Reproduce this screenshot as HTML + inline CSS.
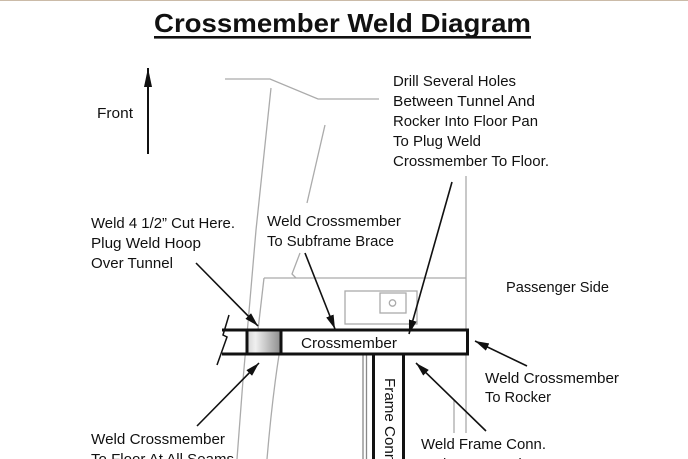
<!DOCTYPE html>
<html><head><meta charset="utf-8"><style>
html,body{margin:0;padding:0;background:#fff;width:688px;height:459px;overflow:hidden;}
svg{display:block;overflow:hidden;}
text{font-family:"Liberation Sans",Arial,sans-serif;fill:#111;}
</style></head><body>
<svg width="688" height="459" viewBox="0 0 688 459" xmlns="http://www.w3.org/2000/svg">
<defs>
<clipPath id="clip"><rect x="0" y="0" width="688" height="459"/></clipPath>
<marker id="ah" markerUnits="userSpaceOnUse" markerWidth="14" markerHeight="8" refX="14" refY="4" orient="auto">
<path d="M0,0 L14,4 L0,8 z" fill="#111"/>
</marker>
<marker id="ahf" markerUnits="userSpaceOnUse" markerWidth="19" markerHeight="8" refX="19" refY="4" orient="auto">
<path d="M0,0 L19,4 L0,8 z" fill="#111"/>
</marker>
<linearGradient id="g" x1="0" y1="0" x2="1" y2="0">
<stop offset="0" stop-color="#d4d4d4"/>
<stop offset="0.25" stop-color="#f0f0f0"/>
<stop offset="1" stop-color="#8c8c8c"/>
</linearGradient>
</defs>
<g clip-path="url(#clip)">
<rect x="0" y="0" width="688" height="1" fill="#cbbba8"/>

<!-- Title -->
<text x="154" y="32" font-size="26" font-weight="bold" textLength="377" lengthAdjust="spacingAndGlyphs">Crossmember Weld Diagram</text>
<rect x="154" y="36" width="377" height="2.6" fill="#111"/>

<!-- Front arrow -->
<line x1="148" y1="154" x2="148" y2="68" stroke="#111" stroke-width="2" marker-end="url(#ahf)"/>
<text x="97" y="118" font-size="15" textLength="36" lengthAdjust="spacingAndGlyphs">Front</text>

<!-- gray outline lines -->
<g fill="none" stroke="#ababab" stroke-width="1.3">
<polyline points="225,79 270,79 318,99 379,99"/>
<polyline points="271,88 256,230 250,300 243,380 237,459"/>
<line x1="325" y1="125" x2="307" y2="203"/>
<polyline points="300,253 292,274 296,278"/>
<polyline points="264,278 466,278"/>
<line x1="264" y1="278" x2="258" y2="330"/>
<line x1="466" y1="176" x2="466" y2="330"/>
<rect x="345" y="291" width="72" height="33"/>
<rect x="380" y="293" width="26" height="20"/>
<circle cx="392.5" cy="303" r="3.2"/>
<path d="M279,355 Q272,400 267,459"/>
<line x1="454" y1="400" x2="454" y2="433"/>
<line x1="466" y1="355" x2="466" y2="433"/>
<line x1="363" y1="355" x2="363" y2="459" stroke="#888"/>
<line x1="366.5" y1="355" x2="366.5" y2="459" stroke="#888"/>
</g>

<!-- Crossmember bar -->
<rect x="223" y="330" width="245" height="24" fill="#fff" stroke="none"/>
<rect x="247" y="330" width="34" height="24" fill="url(#g)"/>
<g stroke="#111" stroke-width="3" fill="none">
<line x1="222" y1="330" x2="469" y2="330"/>
<line x1="222" y1="354" x2="469" y2="354"/>
<line x1="467.5" y1="330" x2="467.5" y2="354"/>
<line x1="247" y1="330" x2="247" y2="354"/>
<line x1="281" y1="330" x2="281" y2="354"/>
<line x1="373.5" y1="354" x2="373.5" y2="459"/>
<line x1="403.5" y1="354" x2="403.5" y2="459"/>
</g>
<polyline points="229,315 223,335 227,337 217,365" fill="none" stroke="#111" stroke-width="1.5"/>
<text x="301" y="348" font-size="15" textLength="96" lengthAdjust="spacingAndGlyphs">Crossmember</text>
<text transform="translate(385,378) rotate(90)" font-size="15" textLength="118" lengthAdjust="spacingAndGlyphs">Frame Connector</text>

<!-- Arrows -->
<g stroke="#111" stroke-width="1.6" fill="none">
<line x1="196" y1="263" x2="258" y2="326" marker-end="url(#ah)"/>
<line x1="305" y1="253" x2="335" y2="329" marker-end="url(#ah)"/>
<line x1="452" y1="182" x2="409" y2="334" marker-end="url(#ah)"/>
<line x1="197" y1="426" x2="259" y2="363" marker-end="url(#ah)"/>
<line x1="527" y1="366" x2="475" y2="341" marker-end="url(#ah)"/>
<line x1="486" y1="431" x2="416" y2="363" marker-end="url(#ah)"/>
</g>

<!-- Labels -->
<g font-size="15">
<text x="393" y="86" textLength="123" lengthAdjust="spacingAndGlyphs">Drill Several Holes</text>
<text x="393" y="106" textLength="142" lengthAdjust="spacingAndGlyphs">Between Tunnel And</text>
<text x="393" y="126" textLength="145" lengthAdjust="spacingAndGlyphs">Rocker Into Floor Pan</text>
<text x="393" y="146" textLength="88" lengthAdjust="spacingAndGlyphs">To Plug Weld</text>
<text x="393" y="166" textLength="156" lengthAdjust="spacingAndGlyphs">Crossmember To Floor.</text>

<text x="91" y="228" textLength="144" lengthAdjust="spacingAndGlyphs">Weld 4 1/2” Cut Here.</text>
<text x="91" y="248" textLength="110" lengthAdjust="spacingAndGlyphs">Plug Weld Hoop</text>
<text x="91" y="268" textLength="82" lengthAdjust="spacingAndGlyphs">Over Tunnel</text>

<text x="267" y="226" textLength="134" lengthAdjust="spacingAndGlyphs">Weld Crossmember</text>
<text x="267" y="246" textLength="127" lengthAdjust="spacingAndGlyphs">To Subframe Brace</text>

<text x="506" y="292" textLength="103" lengthAdjust="spacingAndGlyphs">Passenger Side</text>

<text x="485" y="383" textLength="134" lengthAdjust="spacingAndGlyphs">Weld Crossmember</text>
<text x="485" y="402" textLength="66" lengthAdjust="spacingAndGlyphs">To Rocker</text>

<text x="91" y="444" textLength="134" lengthAdjust="spacingAndGlyphs">Weld Crossmember</text>
<text x="91" y="464" textLength="143" lengthAdjust="spacingAndGlyphs">To Floor At All Seams</text>

<text x="421" y="449" textLength="125" lengthAdjust="spacingAndGlyphs">Weld Frame Conn.</text>
<text x="421" y="469" textLength="118" lengthAdjust="spacingAndGlyphs">And Crossmember</text>
</g>
</g>
</svg>
</body></html>
